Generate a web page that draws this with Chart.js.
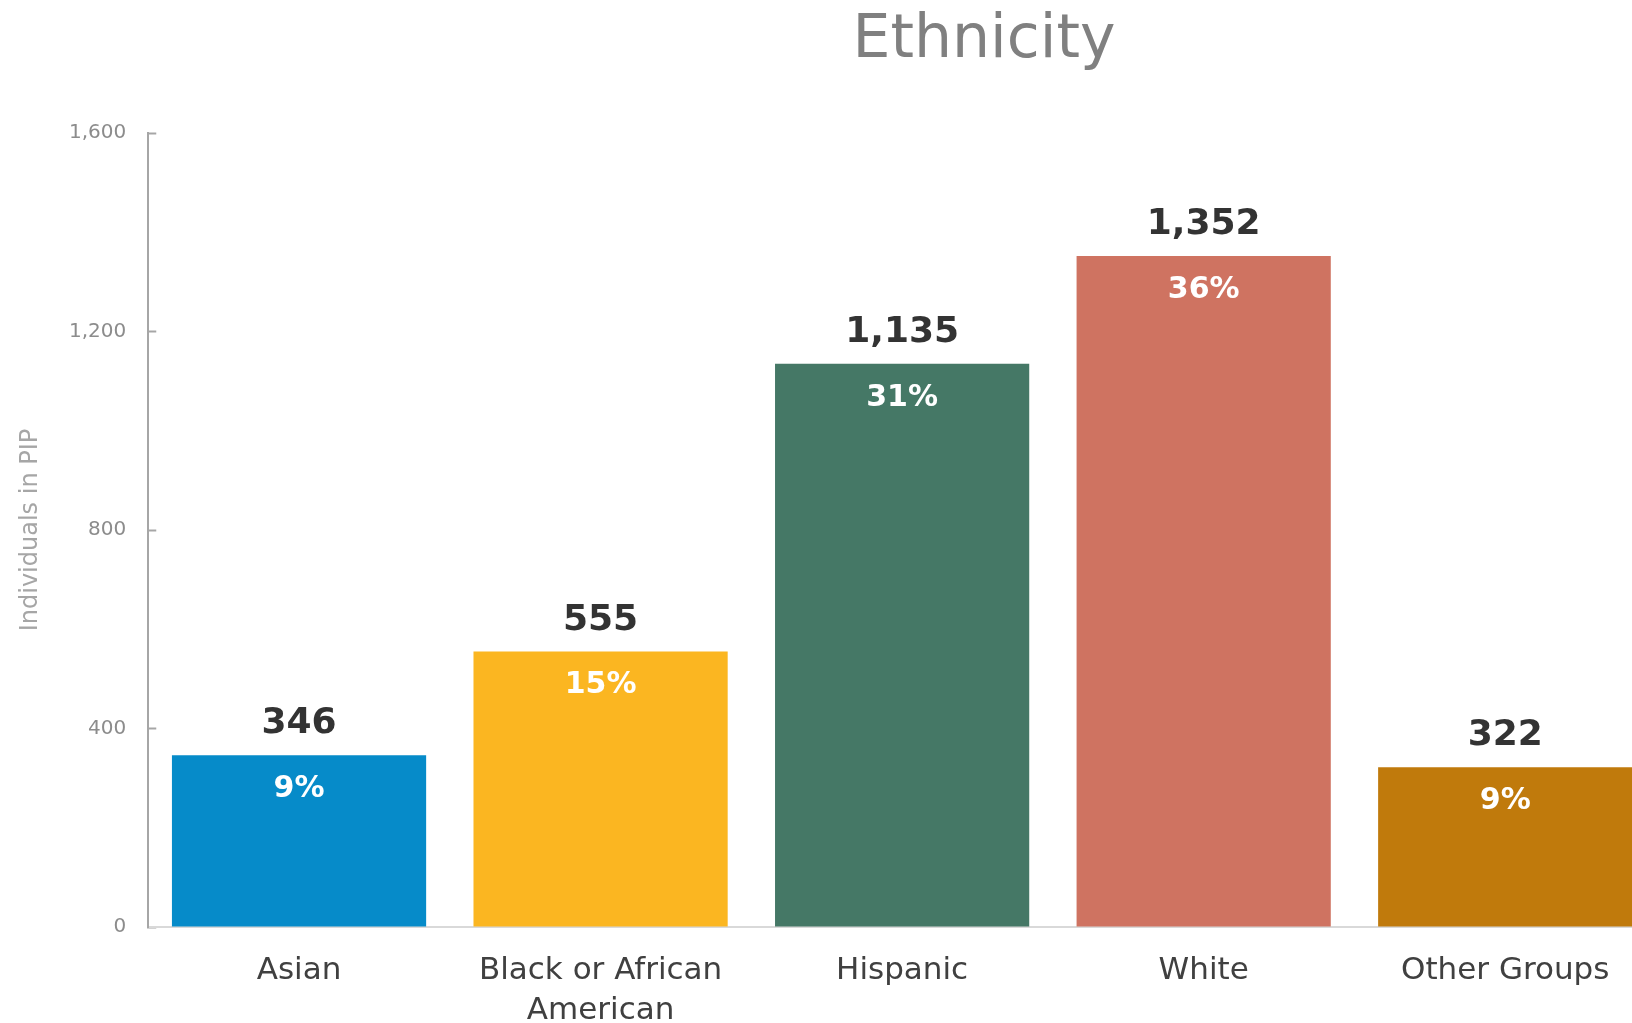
<!DOCTYPE html>
<html>
<head>
<meta charset="utf-8">
<script src="https://cdn.jsdelivr.net/npm/chart.js@4.4.1/dist/chart.umd.min.js"></script>
<style>
    html, body { margin: 0; padding: 0; background: #fff; overflow: hidden; }
    #wrap { width: 1656px; height: 1023px; }
</style>
</head>
<body>
<div id="wrap"><canvas id="chart" width="1656" height="1023"></canvas></div>
<script>
// Ethnicity of individuals in PIP
const categories = ['Asian', ['Black or African', 'American'], 'Hispanic', 'White', 'Other Groups'];
const counts = [346, 555, 1135, 1352, 322];
const shares = [9, 15, 31, 36, 9];
const barColors = ['#068bc9', '#fbb621', '#457866', '#cf7361', '#c07a0c'];
const yTicks = [0, 400, 800, 1200, 1600];

const FONT = '"DejaVu Sans", sans-serif';

// value on top of each bar, share just inside the top
const barLabels = {
    id: 'barLabels',
    afterDatasetsDraw(chart) {
        const ctx = chart.ctx;
        const meta = chart.getDatasetMeta(0);
        ctx.save();
        ctx.textAlign = 'center';
        meta.data.forEach((bar, i) => {
            ctx.font = `bold 36px ${FONT}`;
            ctx.fillStyle = '#333333';
            ctx.textBaseline = 'alphabetic';
            ctx.fillText(counts[i].toLocaleString('en-US'), bar.x, bar.y - 22);
            ctx.font = `bold 30px ${FONT}`;
            ctx.fillStyle = '#ffffff';
            ctx.textBaseline = 'middle';
            ctx.fillText(shares[i] + '%', bar.x, bar.y + 34);
        });
        ctx.restore();
    }
};

// title sits right of centre in the original
const chartTitle = {
    id: 'chartTitle',
    afterDraw(chart) {
        const ctx = chart.ctx;
        ctx.save();
        ctx.font = `60px ${FONT}`;
        ctx.fillStyle = '#808080';
        ctx.textAlign = 'center';
        ctx.textBaseline = 'alphabetic';
        ctx.fillText('Ethnicity', 984, 57);
        ctx.restore();
    }
};

new Chart(document.getElementById('chart'), {
    type: 'bar',
    data: {
        labels: categories,
        datasets: [{
            data: counts,
            backgroundColor: barColors,
            barPercentage: 0.843,
            categoryPercentage: 1.0
        }]
    },
    options: {
        responsive: false,
        animation: false,
        layout: { padding: { top: 133, left: 11, right: 0, bottom: 0 } },
        plugins: {
            legend: { display: false },
            tooltip: { enabled: false }
        },
        scales: {
            x: {
                grid: { display: false },
                border: { color: '#d9d9d9', width: 2 },
                afterFit(scale) { scale.height = 96; },
                ticks: {
                    color: '#404040',
                    font: { family: FONT, size: 31, lineHeight: 1.29 },
                    padding: 16,
                    maxRotation: 0
                }
            },
            y: {
                min: 0,
                max: 1600,
                afterBuildTicks(scale) { scale.ticks = yTicks.map(v => ({ value: v })); },
                border: { color: '#a6a6a6', width: 2 },
                grid: { drawOnChartArea: false, tickLength: -8, tickColor: '#a6a6a6', tickWidth: 2 },
                ticks: {
                    color: '#8c8c8c',
                    font: { family: FONT, size: 20 },
                    padding: 30,
                    callback: v => v.toLocaleString('en-US')
                },
                title: {
                    display: true,
                    text: 'Individuals in PIP',
                    color: '#a6a6a6',
                    font: { family: FONT, size: 24, lineHeight: 0.667 },
                    padding: { top: 12, bottom: 0 }
                }
            }
        }
    },
    plugins: [barLabels, chartTitle]
});
</script>
</body>
</html>
